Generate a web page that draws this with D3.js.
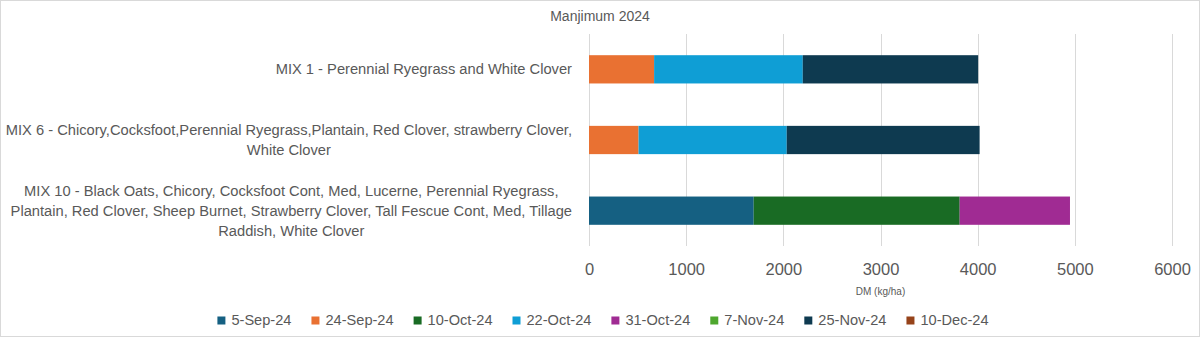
<!DOCTYPE html>
<html><head><meta charset="utf-8">
<script src="https://cdn.jsdelivr.net/npm/d3@7"></script>
<style>body{margin:0;background:#fff}svg{display:block}</style>
</head><body>
<svg id="c" width="1200" height="337"></svg>
<script>
const categories = [
  ["MIX 1 - Perennial Ryegrass and White Clover"],
  ["MIX 6 - Chicory,Cocksfoot,Perennial Ryegrass,Plantain, Red Clover, strawberry Clover,", "White Clover"],
  ["MIX 10 - Black Oats, Chicory, Cocksfoot Cont, Med, Lucerne, Perennial Ryegrass,", "Plantain, Red Clover, Sheep Burnet, Strawberry Clover, Tall Fescue Cont, Med, Tillage", "Raddish, White Clover"]
];
const seriesNames = ["5-Sep-24","24-Sep-24","10-Oct-24","22-Oct-24","31-Oct-24","7-Nov-24","25-Nov-24","10-Dec-24"];
const sep5  = [0, 0, 1695];
const sep24 = [670, 510, 0];
const oct10 = [0, 0, 2120];
const oct22 = [1530, 1525, 0];
const oct31 = [0, 0, 1135];
const nov7  = [0, 0, 0];
const nov25 = [1805, 1985, 0];
const dec10 = [0, 0, 0];
const xTicks = [0,1000,2000,3000,4000,5000,6000];
const colors = ["#156082","#E97132","#196B24","#0F9ED5","#A02B93","#4EA72E","#0E3A50","#96431A"];

const seriesVals = [sep5, sep24, oct10, oct22, oct31, nov7, nov25, dec10];
const svg = d3.select("#c");
const W = 1200, H = 337;
svg.append("rect").attr("x",0.5).attr("y",0.5).attr("width",W-1).attr("height",H-1)
  .attr("fill","#fff").attr("stroke","#d9d9d9");

const m = {left:589, right:1172, top:34, bottom:246};
const x = d3.scaleLinear().domain([0,6000]).range([m.left, m.right]);
const y = d3.scaleBand().domain(d3.range(categories.length)).range([m.top, m.bottom]).paddingInner(0.6).paddingOuter(0.3);

const font = "Liberation Sans, Arial, sans-serif";

// title
svg.append("text").attr("x",600).attr("y",21).attr("text-anchor","middle")
  .attr("font-family",font).attr("font-size",14).attr("fill","#595959").text("Manjimum 2024");

// gridlines
svg.append("g").selectAll("line").data(xTicks).join("line")
  .attr("x1",d=>Math.round(x(d))+0.5).attr("x2",d=>Math.round(x(d))+0.5)
  .attr("y1",m.top).attr("y2",m.bottom).attr("stroke","#d9d9d9").attr("stroke-width",1);

// stacked bars
const rows = categories.map((c,i)=>{const o={idx:i}; seriesNames.forEach((s,j)=>o[s]=seriesVals[j][i]); return o;});
const stack = d3.stack().keys(seriesNames)(rows);
svg.append("g").selectAll("g").data(stack).join("g").attr("fill",(d,i)=>colors[i])
  .selectAll("rect").data(d=>d).join("rect")
  .attr("x",d=>x(d[0])).attr("width",d=>x(d[1])-x(d[0]))
  .attr("y",(d,i)=>y(i)).attr("height",y.bandwidth());

// x axis
const ax = svg.append("g").attr("transform",`translate(0,${m.bottom})`)
  .call(d3.axisBottom(x).tickValues(xTicks).tickSize(0).tickPadding(17).tickFormat(d3.format("d")));
ax.select(".domain").remove();
ax.selectAll("text").attr("font-family",font).attr("font-size",16.5).attr("fill","#595959");

svg.append("text").attr("x",(m.left+m.right)/2).attr("y",295).attr("text-anchor","middle")
  .attr("font-family",font).attr("font-size",10).attr("fill","#595959").text("DM (kg/ha)");

// category labels
const labelRight = 572;
const catSize = 14.7;
const lh = 20;
categories.forEach((lines,i)=>{
  const cy = y(i)+y.bandwidth()/2;
  const g = svg.append("g");
  const ts = lines.map((t,k)=>g.append("text").attr("font-family",font).attr("font-size",catSize)
    .attr("fill","#595959").attr("text-anchor","middle").attr("y",cy+(k-(lines.length-1)/2)*lh+5).text(t));
  const maxW = d3.max(ts,t=>t.node().getComputedTextLength());
  ts.forEach(t=>t.attr("x",labelRight-maxW/2));
});

// legend
const lg = svg.append("g");
const items = seriesNames.map((s,i)=>{
  const it = lg.append("g");
  it.append("rect").attr("width",8).attr("height",8).attr("y",-8.5).attr("fill",colors[i]);
  const t = it.append("text").attr("x",14).attr("y",0).attr("font-family",font).attr("font-size",14.6)
    .attr("fill","#595959").text(s);
  return {g:it, w:14+t.node().getComputedTextLength()};
});
const gap = 20;
const total = d3.sum(items,d=>d.w)+gap*(items.length-1);
let cx = 603-total/2;
items.forEach(d=>{d.g.attr("transform",`translate(${cx},325)`); cx += d.w+gap;});
</script>
</body></html>
